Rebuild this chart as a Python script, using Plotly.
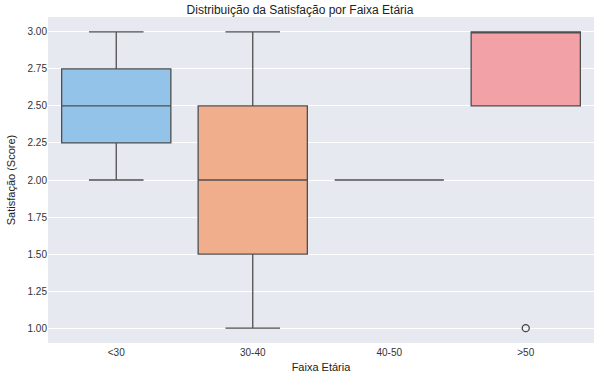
import plotly.graph_objects as go

categories = ["<30", "30-40", "40-50", ">50"]
q1 = [2.25, 1.5, 2.0, 2.5]
median = [2.5, 2.0, 2.0, 3.0]
q3 = [2.75, 2.5, 2.0, 3.0]
lower = [2.0, 1.0, 2.0, 2.5]
upper = [3.0, 3.0, 2.0, 3.0]
outlier_cat = [">50"]
outlier_val = [1.0]
colors = ["#93c3e8", "#f1ae8d", "#a9d9a9", "#f2a2a6"]

fig = go.Figure()
for i, c in enumerate(categories):
    fig.add_trace(go.Box(
        x=[c], q1=[q1[i]], median=[median[i]], q3=[q3[i]],
        lowerfence=[lower[i]], upperfence=[upper[i]],
        fillcolor=colors[i], line=dict(color="#4f4f4f", width=1.3),
        width=0.8, whiskerwidth=0.5, boxpoints=False, showlegend=False,
        hoverinfo="skip",
    ))
fig.add_trace(go.Scatter(
    x=outlier_cat, y=outlier_val, mode="markers",
    marker=dict(symbol="circle-open", size=7, color="#444444", line=dict(width=1.3)),
    showlegend=False,
))

fig.update_layout(
    width=600, height=377,
    margin=dict(l=48, r=6, t=17, b=34),
    paper_bgcolor="white", plot_bgcolor="#e6e9ef",
    boxmode="overlay",
    font=dict(family="Liberation Sans, Arial, sans-serif", color="#333333", size=10),
    title=dict(text="Distribuição da Satisfação por Faixa Etária", x=0.5, xanchor="center",
               y=0.985, yanchor="top", font=dict(size=12, color="#222222")),
    xaxis=dict(type="category", categoryorder="array", categoryarray=categories,
               range=[-0.5, 3.5], showgrid=False, zeroline=False, ticks="",
               automargin=False, ticklabelstandoff=2,
               title=dict(text="Faixa Etária", font=dict(size=11, color="#222222"), standoff=6),
               tickfont=dict(size=10)),
    yaxis=dict(range=[0.9, 3.1], dtick=0.25, tick0=1.0, tickformat=".2f",
               gridcolor="white", gridwidth=1, zeroline=False, ticks="",
               automargin=False,
               title=dict(text="Satisfação (Score)", font=dict(size=11, color="#222222"), standoff=9),
               tickfont=dict(size=10)),
)
fig.write_html("out.html", config={"displayModeBar": False},
               post_script="document.body.style.margin='0';")
